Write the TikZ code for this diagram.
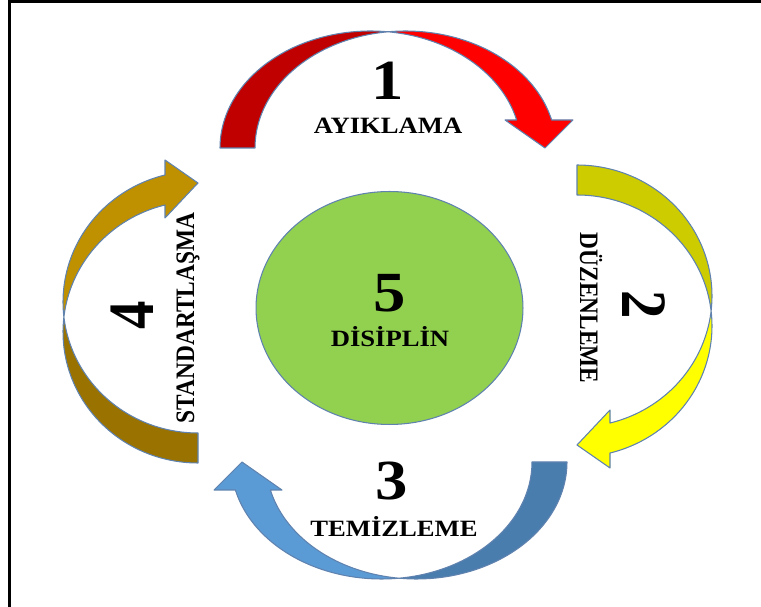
\documentclass[tikz,border=0pt]{standalone}
\usepackage{fontspec}
\setmainfont{Liberation Serif}
\usetikzlibrary{shapes.geometric}

\definecolor{rimblue}{RGB}{95,130,175}
\definecolor{redDark}{RGB}{192,0,0}
\definecolor{redBright}{RGB}{255,0,0}
\definecolor{yellowDark}{RGB}{204,204,0}
\definecolor{yellowBright}{RGB}{255,255,0}
\definecolor{blueDark}{RGB}{73,125,174}
\definecolor{blueBright}{RGB}{91,155,213}
\definecolor{goldDark}{RGB}{154,114,0}
\definecolor{goldBright}{RGB}{191,144,0}
\definecolor{leafgreen}{RGB}{146,208,80}

% Curved ribbon arrow in a local frame: u runs from tail to head, v points to the apex.
% #1 x radius, #2 y radius, #3 shaft width, #4 height where the head starts,
% #5 inner barb, #6 outer barb, #7 tip (all along u), #8 tail colour, #9 head colour
\newcommand{\ribbonarrow}[9]{%
  \pgfmathsetmacro\ra{#1}\pgfmathsetmacro\rb{#2}\pgfmathsetmacro\rw{#3}%
  \pgfmathsetmacro\rth{acos(\rw/(2*\ra))}%
  \pgfmathsetmacro\rph{180-\rth}%
  \pgfmathsetmacro\rte{asin(#4/\rb)}%
  \filldraw[rim, fill=#8]
    plot[domain=180:\rth, samples=50] ({\ra*cos(\x)},{\rb*sin(\x)})
    -- plot[domain=\rph:180, samples=50] ({\rw+\ra*cos(\x)},{\rb*sin(\x)}) -- cycle;
  \filldraw[rim, fill=#9]
    plot[domain=\rph:\rte, samples=50] ({\rw+\ra*cos(\x)},{\rb*sin(\x)})
    -- (#6,#4) -- (#7,0) -- (#5,#4)
    -- plot[domain=\rte:\rth, samples=50] ({\ra*cos(\x)},{\rb*sin(\x)}) -- cycle;
}

\begin{document}
\begin{tikzpicture}[x=0.02cm, y=-0.02cm,
  rim/.style={draw=rimblue, line width=0.6pt, line join=round},
  bigdigit/.style={font=\fontsize{32.3}{38}\selectfont\bfseries, inner sep=0pt, xscale=1.14},
  word/.style={font=\fontsize{13.3}{16}\selectfont\bfseries, inner sep=0pt, xscale=1.14}]
\useasboundingbox (0,0) rectangle (761,607);
\clip (0,0) rectangle (761,607);

% four curved arrows around the centre
\begin{scope}[shift={(370.5,148)}, yscale=-1]
  \ribbonarrow{150.5}{117}{35}{28}{134.5}{202.5}{174.5}{redDark}{redBright}
\end{scope}
\begin{scope}[shift={(577,296)}, rotate=-90, yscale=-1]
  \ribbonarrow{131}{135}{30}{33}{114}{172}{149}{yellowDark}{yellowBright}
\end{scope}
\begin{scope}[shift={(416.5,462)}, rotate=180, yscale=-1]
  \ribbonarrow{150.5}{117}{35}{28}{134.5}{202.5}{174.5}{blueDark}{blueBright}
\end{scope}
\begin{scope}[shift={(198,332)}, rotate=90, yscale=-1]
  \ribbonarrow{131}{135}{30}{33}{114}{172}{149}{goldDark}{goldBright}
\end{scope}

% centre
\node (core) [ellipse, rim, fill=leafgreen, minimum width=5.34cm, minimum height=4.66cm, inner sep=0pt] at (389.5,308) {};
\node (n5) [bigdigit, anchor=base] at (390,312) {5};
\node (t5) [word, anchor=base] at (390,347) {DİSİPLİN};

% step labels
\node (n1) [bigdigit, anchor=base] at (388,100) {1};
\node (t1) [word, anchor=base] at (388,134) {AYIKLAMA};

\node (n2) [bigdigit, anchor=base, rotate=-90] at (622,305) {2};
\node (t2) [word, anchor=base, rotate=-90] at (580,308) {DÜZENLEME};

\node (n3) [bigdigit, anchor=base] at (392,500) {3};
\node (t3) [word, anchor=base] at (394,537) {TEMİZLEME};

\node (n4) [bigdigit, anchor=base, rotate=90] at (153,315) {4};
\node (t4) [word, anchor=base, rotate=90] at (194,318) {STANDARTLAŞMA};

% outer frame
\draw[line width=1.7pt] (9.5,1.5) rectangle (900,800);
\end{tikzpicture}
\end{document}
